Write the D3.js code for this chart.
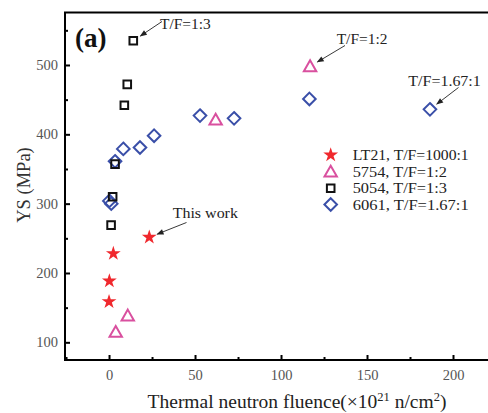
<!DOCTYPE html>
<html>
<head>
<meta charset="utf-8">
<script src="https://cdn.jsdelivr.net/npm/d3@7"></script>
<style>
  html, body { margin: 0; padding: 0; background: #fff; }
  svg { display: block; }
</style>
</head>
<body>
<svg id="chart" width="488" height="413"></svg>
<script>
// ---- data ----
const lt21X = [0, 0.2, 2.5, 23.4];
const lt21Y = [158.6, 188.5, 228, 251.5];

const a5754X = [3.9, 10.9, 62, 116.9];
const a5754Y = [115, 138.5, 421, 498];

const a5054X = [1.2, 2.1, 3.5, 8.9, 10.6, 14.1];
const a5054Y = [269, 310, 357, 442, 472, 535];

const a6061X = [0.2, 1.3, 3.5, 8.3, 18, 26.2, 52.9, 72.7, 116.5, 186.6];
const a6061Y = [304, 300, 361, 379, 381, 398, 427, 423, 451, 436];

const seriesNames = ["LT21, T/F=1000:1", "5754, T/F=1:2", "5054, T/F=1:3", "6061, T/F=1.67:1"];
const xMajorTicks = [0, 50, 100, 150, 200];
const xMinorTicks = [-25, 25, 75, 125, 175, 225];
const yMajorTicks = [100, 200, 300, 400, 500];
const yMinorTicks = [150, 250, 350, 450, 550];

const annotations = [
  { text: "T/F=1:3", px: 14.1, py: 535, tx: 160, ty: 28.5, ax: 162, ay: 21.5 },
  { text: "T/F=1:2", px: 116.9, py: 498, tx: 336.7, ty: 43.5, ax: 345, ay: 45.5 },
  { text: "T/F=1.67:1", px: 186.6, py: 436, tx: 408.3, ty: 86, ax: 458.5, ay: 87.5 },
  { text: "This work", px: 23.4, py: 251.5, tx: 172.7, ty: 218, ax: 186.5, ay: 222.5 }
];

// ---- layout ----
const svg = d3.select("#chart");
const L = 65, T = 12.5, R = 496, B = 360;
const x = d3.scaleLinear().domain([-25.6, 225]).range([L, R]);
const y = d3.scaleLinear().domain([74.5, 575.7]).range([B, T]);

const colors = { star: "#f0282d", tri: "#d9509f", sq: "#111111", dia: "#3a4fa8" };

svg.append("defs").append("marker")
  .attr("id", "arr").attr("viewBox", "0 0 10 10").attr("refX", 9).attr("refY", 5)
  .attr("markerWidth", 9).attr("markerHeight", 7).attr("markerUnits", "userSpaceOnUse")
  .attr("orient", "auto")
  .append("path").attr("d", "M0,1 L10,5 L0,9 z").attr("fill", "#222");

const tickColor = "#555";
function styleAxis(g) {
  g.select(".domain").remove();
  g.selectAll(".tick line").attr("stroke", "#000").attr("stroke-width", 2);
  g.selectAll(".tick text").attr("fill", tickColor)
    .attr("font-family", "'Liberation Serif', 'Times New Roman', serif").attr("font-size", 14.5);
}
svg.append("g").attr("transform", `translate(0,${B})`)
  .call(d3.axisBottom(x).tickValues(xMajorTicks).tickSize(-5).tickPadding(10).tickFormat(d3.format("d")))
  .call(styleAxis);
svg.append("g").attr("transform", `translate(0,${B})`)
  .call(d3.axisBottom(x).tickValues(xMinorTicks.filter(v => x(v) > L + 1 && x(v) < 488)).tickSize(-3).tickFormat(""))
  .call(styleAxis);
svg.append("g").attr("transform", `translate(${L},0)`)
  .call(d3.axisLeft(y).tickValues(yMajorTicks).tickSize(-5).tickPadding(7).tickFormat(d3.format("d")))
  .call(styleAxis);
svg.append("g").attr("transform", `translate(${L},0)`)
  .call(d3.axisLeft(y).tickValues(yMinorTicks).tickSize(-3).tickFormat(""))
  .call(styleAxis);

svg.append("rect").attr("x", L).attr("y", T).attr("width", R - L + 10).attr("height", B - T)
  .attr("fill", "none").attr("stroke", "#000").attr("stroke-width", 2);

const starPath = d3.symbol().type(d3.symbolStar).size(68)();
const triPath = "M0,-6 L6.2,4.8 L-6.2,4.8 Z";
const sqPath = "M-3.8,-3.8 H3.8 V3.8 H-3.8 Z";
const diaPath = "M0,-6.3 L6.3,0 L0,6.3 L-6.3,0 Z";

function drawSeries(xs, ys, path, fill, stroke, sw) {
  svg.append("g").selectAll("path").data(xs.map((d, i) => [d, ys[i]])).join("path")
    .attr("d", path)
    .attr("transform", d => `translate(${x(d[0])},${y(d[1])})`)
    .attr("fill", fill).attr("stroke", stroke).attr("stroke-width", sw);
}
drawSeries(a6061X, a6061Y, diaPath, "none", colors.dia, 2);
drawSeries(a5054X, a5054Y, sqPath, "none", colors.sq, 2);
drawSeries(a5754X, a5754Y, triPath, "none", colors.tri, 2);
drawSeries(lt21X, lt21Y, starPath, colors.star, "none", 0);

const unit = 7.25;
function units(s) { let n = 0; for (const c of s) n += (c.charCodeAt(0) > 0x2000 ? 2 : 1); return n; }
const annoFont = "'Liberation Serif', 'Times New Roman', serif";

annotations.forEach(a => {
  svg.append("text").attr("x", a.tx).attr("y", a.ty).text(a.text)
    .attr("font-family", annoFont).attr("font-size", 14).attr("fill", "#222")
    .attr("textLength", units(a.text) * unit).attr("lengthAdjust", "spacingAndGlyphs");
  const px = x(a.px), py = y(a.py);
  const dx = px - a.ax, dy = py - a.ay, len = Math.hypot(dx, dy);
  const stop = 8.5;
  svg.append("line").attr("x1", a.ax).attr("y1", a.ay)
    .attr("x2", px - dx / len * stop).attr("y2", py - dy / len * stop)
    .attr("stroke", "#222").attr("stroke-width", 0.9).attr("marker-end", "url(#arr)");
});

const legendPaths = [starPath, triPath, sqPath, diaPath];
const legendFill = [colors.star, "none", "none", "none"];
const legendStroke = ["none", colors.tri, colors.sq, colors.dia];
const legendY = [155, 171.7, 188.3, 204.5];
const lg = svg.append("g");
seriesNames.forEach((name, i) => {
  lg.append("path").attr("d", legendPaths[i])
    .attr("transform", `translate(330.7,${legendY[i]})`)
    .attr("fill", legendFill[i]).attr("stroke", legendStroke[i]).attr("stroke-width", i ? 2 : 0);
  lg.append("text").attr("x", 352.7).attr("y", legendY[i] + 5).text(name)
    .attr("font-family", annoFont).attr("font-size", 14).attr("fill", "#222")
    .attr("textLength", units(name) * unit).attr("lengthAdjust", "spacingAndGlyphs");
});

svg.append("text").attr("x", 75).attr("y", 47).text("(a)")
  .attr("font-family", "'Liberation Serif', 'Times New Roman', serif").attr("font-weight", "bold")
  .attr("font-size", 27).attr("fill", "#111");

svg.append("text")
  .attr("transform", `translate(30,185) rotate(-90)`)
  .attr("text-anchor", "middle")
  .attr("font-family", "'Liberation Serif', 'Times New Roman', serif").attr("font-size", 18.5)
  .attr("fill", "#333").text("YS (MPa)");

const xt = svg.append("text").attr("x", 297).attr("y", 408).attr("text-anchor", "middle")
  .attr("font-family", "'Liberation Serif', 'Times New Roman', serif").attr("font-size", 19.5)
  .attr("fill", "#222");
xt.append("tspan").text("Thermal neutron fluence(\u00D710");
xt.append("tspan").attr("dy", -7).attr("font-size", 12.5).text("21");
xt.append("tspan").attr("dy", 7).text(" n/cm");
xt.append("tspan").attr("dy", -7).attr("font-size", 12.5).text("2");
xt.append("tspan").attr("dy", 7).text(")");
</script>
</body>
</html>
